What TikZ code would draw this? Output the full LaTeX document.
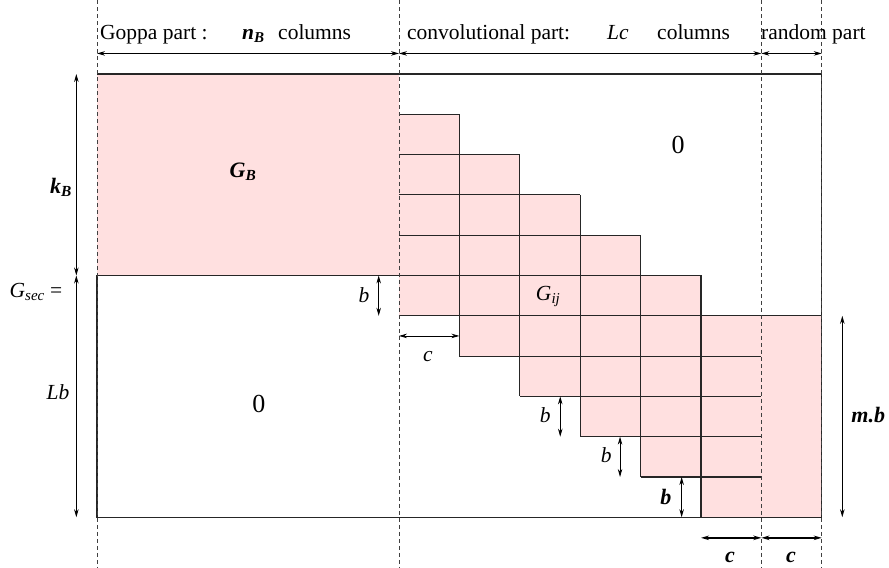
\documentclass[tikz,border=0pt]{standalone}
\usepackage{fontspec}
\setmainfont{Liberation Serif}
\usepackage{amsmath}
\usepackage{tikz}
\usetikzlibrary{arrows.meta}
\definecolor{rosa}{RGB}{255,224,224}
\newcommand{\bfit}[1]{\textbf{\textit{#1}}}

\begin{document}
\begin{tikzpicture}[x=60.4pt, y=-40.3pt,
		linea/.style={line width=1.1pt, black!85},
		guia/.style={dash pattern=on 4pt off 3pt, line width=0.9pt, gray!50!black},
		cota/.style={{Stealth[length=8pt,width=4.5pt]}-{Stealth[length=8pt,width=4.5pt]}, line width=0.8pt},
		cotaB/.style={cota, line width=1.4pt},
		txt/.style={font=\fontsize{21.5}{25}\selectfont, inner sep=0pt},
		cero/.style={font=\fontsize{26}{30}\selectfont, inner sep=0pt}]
		\useasboundingbox (-1.606,-1.836) rectangle (13.113,12.258);
		% Bloques rellenos
		\fill[rosa] (0,0) rectangle (5,5);
		\foreach \i in {0,...,5}
			\fill[rosa] (5+\i,1+\i) rectangle (6+\i,6+\i);
		\fill[rosa] (11,6) rectangle (12,11);
		% Contorno de la matriz
		\draw[linea] (0,5) -- (0,11) -- (12,11) -- (12,0) -- (0,0);
		\draw[linea] (0,5) -- (5,5);
		\draw[linea] (11,6) -- (12,6);
		% Escalera de bloques G_ij
		\foreach \i in {0,...,5}
			\foreach \j in {0,...,5}
				\draw[linea] (5+\i,1+\i+\j) -- (6+\i,1+\i+\j);
		\foreach \i in {1,...,5}
			\draw[linea] (5+\i,\i) -- (5+\i,6+\i);
		% Lineas guia
		\foreach \x in {0,5,11,12}
			\draw[guia] (\x,-1.836) -- (\x,12.258);
		% Puntos de las cotas
		\coordinate (t0) at (0,-0.51);
		\coordinate (t5) at (5,-0.51);
		\coordinate (t11) at (11,-0.51);
		\coordinate (t12) at (12,-0.51);
		\coordinate (l0) at (-0.342,0);
		\coordinate (l5) at (-0.342,5);
		\coordinate (l11) at (-0.342,11);
		\coordinate (b1a) at (4.664,5);
		\coordinate (b1b) at (4.664,6);
		\coordinate (c1a) at (5,6.5);
		\coordinate (c1b) at (6,6.5);
		\coordinate (b2a) at (7.67,8);
		\coordinate (b2b) at (7.67,9);
		\coordinate (b3a) at (8.66,9);
		\coordinate (b3b) at (8.66,10);
		\coordinate (b4a) at (9.68,10);
		\coordinate (b4b) at (9.68,11);
		\coordinate (d10) at (10,11.51);
		\coordinate (d11) at (11,11.51);
		\coordinate (d12) at (12,11.51);
		\coordinate (mba) at (12.34,6);
		\coordinate (mbb) at (12.34,11);
		% Cotas
		\draw[cota] (t0) -- (t5);
		\draw[cota] (t5) -- (t11);
		\draw[cota] (t11) -- (t12);
		\draw[cota] (l0) -- (l5);
		\draw[cota] (l5) -- (l11);
		\draw[cota] (b1a) -- (b1b);
		\draw[cota] (c1a) -- (c1b);
		\draw[cota] (b2a) -- (b2b);
		\draw[cota] (b3a) -- (b3b);
		\draw[cotaB] (b4a) -- (b4b);
		\draw[cotaB] (d10) -- (d11);
		\draw[cotaB] (d11) -- (d12);
		\draw[cotaB] (mba) -- (mbb);
		% Titulos de las partes
		\node[txt, anchor=base west] (goppa) at (0.05,-0.868) {Goppa part :};
		\node[txt, anchor=base west] (nB) at (2.40,-0.868) {$\bfit{n}_{\bfit{B}}$};
		\node[txt, anchor=base west] (colG) at (2.997,-0.868) {columns};
		\node[txt, anchor=base west] (conv) at (5.132,-0.868) {convolutional part:};
		\node[txt, anchor=base west] (Lc) at (8.444,-0.868) {\textit{Lc}};
		\node[txt, anchor=base west] (colC) at (9.272,-0.868) {columns};
		\node[txt, anchor=base west] (rand) at (10.993,-0.868) {random part};
		% Etiquetas de la izquierda
		\node[txt, font=\fontsize{22}{25}\selectfont] (kB) at (-0.596,2.804) {$\bfit{k}_{\bfit{B}}$};
		\node[txt] (Gsec) at (-1.01,5.40) {$\textit{G}_{\textit{sec}}$ =};
		\node[txt] (Lb) at (-0.646,7.89) {\textit{Lb}};
		% Etiquetas de los bloques
		\node[txt, font=\fontsize{22}{25}\selectfont] (GB) at (2.417,2.43) {$\bfit{G}_{\bfit{B}}$};
		\node[cero] (ceroA) at (9.62,1.76) {0};
		\node[cero] (ceroB) at (2.68,8.19) {0};
		\node[txt] (Gij) at (7.47,5.53) {$\textit{G}_{\textit{ij}}$};
		% Etiquetas de las cotas
		\node[txt] (lb1) at (4.42,5.48) {\textit{b}};
		\node[txt] (lc1) at (5.48,7.02) {\textit{c}};
		\node[txt] (lb2) at (7.42,8.46) {\textit{b}};
		\node[txt] (lb3) at (8.43,9.45) {\textit{b}};
		\node[txt, font=\fontsize{22}{25}\selectfont] (lb4) at (9.42,10.5) {\bfit{b}};
		\node[txt, font=\fontsize{22}{25}\selectfont] (lc2) at (10.48,11.99) {\bfit{c}};
		\node[txt, font=\fontsize{22}{25}\selectfont] (lc3) at (11.49,11.99) {\bfit{c}};
		\node[txt, font=\fontsize{22}{25}\selectfont] (lmb) at (12.77,8.46) {\bfit{m.b}};
	\end{tikzpicture}
\end{document}
